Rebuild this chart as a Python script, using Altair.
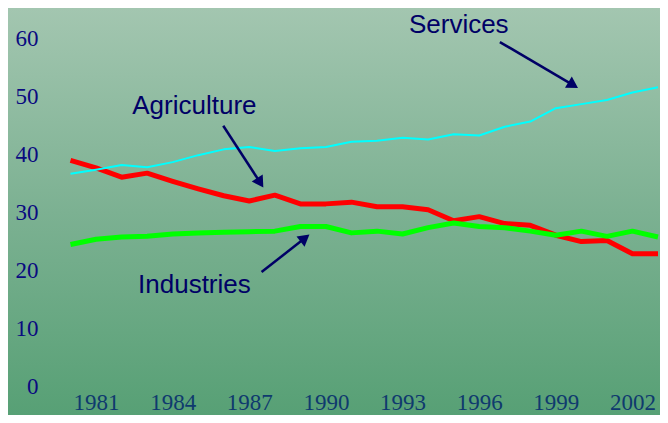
import altair as alt
import pandas as pd

years = list(range(1980, 2004))
agriculture = [38.9, 37.6, 36.0, 36.7, 35.3, 34.0, 32.8, 31.9, 32.9, 31.4, 31.4, 31.7,
               30.9, 30.9, 30.4, 28.5, 29.2, 28.0, 27.7, 26.0, 24.9, 25.1, 22.8, 22.8]
industries = [24.4, 25.3, 25.7, 25.8, 26.2, 26.4, 26.5, 26.6, 26.7, 27.5, 27.5, 26.4,
              26.7, 26.2, 27.3, 28.1, 27.5, 27.3, 26.7, 26.0, 26.7, 25.8, 26.7, 25.7]
services = [36.6, 37.3, 38.1, 37.7, 38.6, 39.8, 40.8, 41.2, 40.5, 41.0, 41.2, 42.1,
            42.3, 42.8, 42.5, 43.4, 43.2, 44.7, 45.6, 47.9, 48.6, 49.3, 50.6, 51.5]
tick_years = [1981, 1984, 1987, 1990, 1993, 1996, 1999, 2002]
y_ticks = [0, 10, 20, 30, 40, 50, 60]

series_names = ["Agriculture", "Industries", "Services"]
series_colors = ["#ff0000", "#00ff00", "#00ffff"]
series_widths = [5, 5, 2]

label_text = ["Services", "Agriculture", "Industries"]
label_year = [1995.20, 1984.85, 1984.85]
label_value = [60.8, 46.84, 16.03]

arrow_year = [1996.81, 1985.98, 1987.48]
arrow_value = [59.3, 44.88, 19.66]
arrow_year2 = [1999.68, 1987.43, 1989.18]
arrow_value2 = [51.88, 35.05, 25.5]
arrow_angle = [121.6, 147.2, 51.9]

rows = []
for name, vals in zip(series_names, [agriculture, industries, services]):
    for yr, v in zip(years, vals):
        rows.append({"year": yr, "value": v, "series": name})
df = pd.DataFrame(rows)

labels_df = pd.DataFrame({"text": label_text, "year": label_year, "value": label_value})
arrows_df = pd.DataFrame({"year": arrow_year, "value": arrow_value,
                          "year2": arrow_year2, "value2": arrow_value2,
                          "angle": arrow_angle})

W, H = 612, 390
PADL, PADB = 40, 17
xscale = alt.Scale(domain=[1980, 2003], range=[22.5, 610], nice=False, zero=False)
yscale = alt.Scale(domain=[0, 60], range=[378, 30], nice=False)

x_axis = alt.Axis(values=tick_years, format="d", title=None, grid=False,
                  domain=False, ticks=False, labelFont="Liberation Serif",
                  labelFontSize=23, labelColor="#0f3a6e", labelPadding=11,
                  labelBaseline="alphabetic", labelFlush=False, labelOverlap=False,
                  zindex=2)
y_axis = alt.Axis(values=y_ticks, title=None, grid=False, domain=False,
                  ticks=False, labelFont="Liberation Serif", labelFontSize=23,
                  labelColor="#0a0a80", labelPadding=10, labelFlush=False,
                  labelOverlap=False, zindex=2)


def xq(field):
    return alt.X(field, type="quantitative", scale=xscale, axis=x_axis)


def yq(field):
    return alt.Y(field, type="quantitative", scale=yscale, axis=y_axis)


bg = alt.Chart(pd.DataFrame({"a": [0]})).mark_rect(
    fill=alt.Gradient(
        gradient="linear",
        stops=[alt.GradientStop(color="#a3c6b0", offset=0),
               alt.GradientStop(color="#7cb192", offset=0.5),
               alt.GradientStop(color="#57a075", offset=1)],
        x1=0, x2=0, y1=0, y2=1),
    clip=False,
).encode(x=alt.value(-PADL), x2=alt.value(W), y=alt.value(0), y2=alt.value(H + PADB))

line_layers = []
for name, col, sw in zip(series_names, series_colors, series_widths):
    line_layers.append(
        alt.Chart(df).transform_filter(alt.datum.series == name)
        .mark_line(color=col, strokeWidth=sw, strokeCap="butt", strokeJoin="round")
        .encode(x=xq("year"), y=yq("value"), order=alt.Order("year:Q"))
    )

arrow_lines = alt.Chart(arrows_df).mark_rule(color="#000066", strokeWidth=2.5).encode(
    x=xq("year"), y=yq("value"), x2="year2:Q", y2="value2:Q")

arrow_heads = alt.Chart(arrows_df).mark_point(
    shape="triangle-up", filled=True, color="#000066", size=170, opacity=1
).encode(x=xq("year2"), y=yq("value2"), angle=alt.Angle("angle:Q", scale=None))

texts = alt.Chart(labels_df).mark_text(
    font="Liberation Sans", fontSize=26, color="#000066", align="center",
    baseline="alphabetic"
).encode(x=xq("year"), y=yq("value"), text="text:N")

chart = alt.layer(bg, *line_layers, arrow_lines, arrow_heads, texts).properties(
    width=W, height=H,
    autosize=alt.AutoSizeParams(type="none"),
    padding={"left": PADL, "top": 0, "right": 0, "bottom": PADB},
).configure_view(stroke=None).configure(background="#a3c6b0")

chart.save("out.html", embed_options={"renderer": "svg", "actions": False})
